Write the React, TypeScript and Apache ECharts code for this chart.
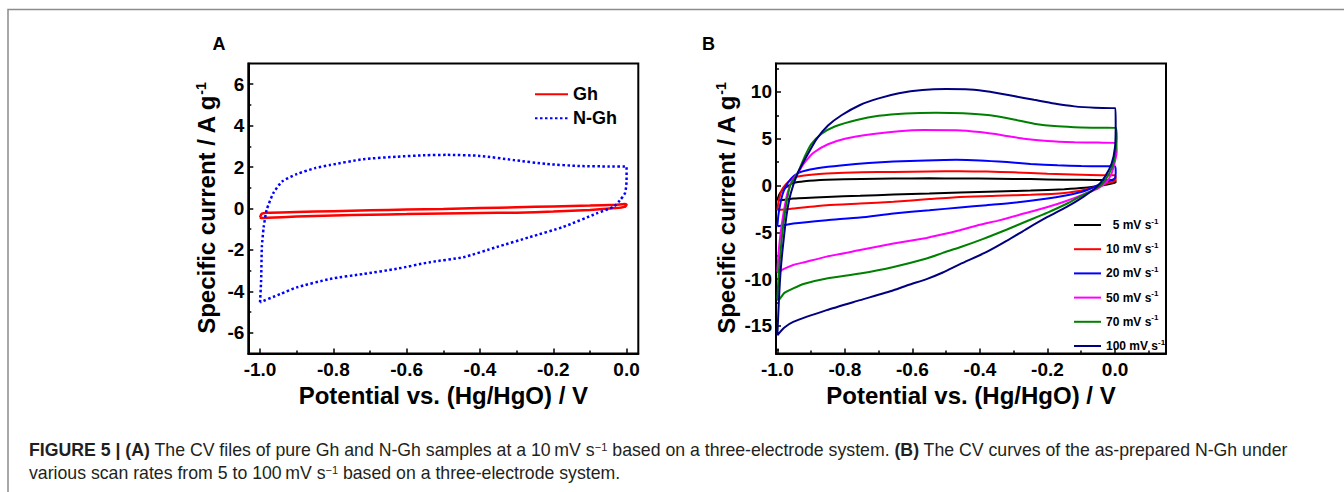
import React, { useEffect, useRef } from 'react';
import * as echarts from 'echarts';

// ---------- Panel A data (potential V, current A/g), closed CV loops ----------
const ghLoop: [number, number][] = [
  [-1.0, -0.42], [-0.995, -0.25], [-0.98, -0.2], [-0.9, -0.17], [-0.8, -0.13], [-0.7, -0.09],
  [-0.6, -0.05], [-0.5, -0.02], [-0.4, 0.02], [-0.3, 0.06], [-0.2, 0.1], [-0.1, 0.14],
  [-0.03, 0.18], [-0.005, 0.22], [0.0, 0.18], [-0.005, 0.08], [-0.03, 0.02], [-0.1, -0.07],
  [-0.2, -0.15], [-0.3, -0.2], [-0.4, -0.22], [-0.5, -0.24], [-0.6, -0.27], [-0.7, -0.3],
  [-0.8, -0.34], [-0.9, -0.39], [-0.98, -0.45], [-0.997, -0.46], [-1.0, -0.42],
];
const nghLoop: [number, number][] = [
  [-1.0, -4.53], [-0.997, -3.48], [-0.995, -1.86], [-0.99, -0.9], [-0.982, -0.08], [-0.964, 0.73],
  [-0.94, 1.3], [-0.9, 1.66], [-0.85, 1.95], [-0.809, 2.1], [-0.718, 2.38], [-0.627, 2.5],
  [-0.55, 2.57], [-0.491, 2.59], [-0.4, 2.54], [-0.309, 2.34], [-0.218, 2.15], [-0.127, 2.05],
  [-0.05, 2.03], [0.0, 2.02], [0.0, 1.37], [-0.004, 0.75], [-0.018, 0.4], [-0.036, 0.08],
  [-0.082, -0.24], [-0.173, -0.89], [-0.264, -1.38], [-0.354, -1.86], [-0.445, -2.35],
  [-0.536, -2.59], [-0.627, -2.91], [-0.718, -3.16], [-0.809, -3.4], [-0.9, -3.81],
  [-0.945, -4.13], [-1.0, -4.53],
];

// ---------- Panel B data: N-Gh at scan rates ----------
const scanRates = ['5', '10', '20', '50', '70', '100'];
const scanColors = ['#000000', '#ff0000', '#0000ff', '#ff00ff', '#008000', '#000080'];

const cv5: [number, number][] = [
  [-1.0, -1.57], [-0.995, -1.0], [-0.985, -0.5], [-0.97, -0.1], [-0.953, 0.25], [-0.92, 0.45],
  [-0.854, 0.6], [-0.75, 0.7], [-0.656, 0.75], [-0.55, 0.76], [-0.459, 0.75], [-0.35, 0.72],
  [-0.25, 0.68], [-0.15, 0.62], [-0.05, 0.58], [0.0, 0.56], [0.002, 0.35], [-0.01, 0.2],
  [-0.04, 0.0], [-0.09, -0.25], [-0.15, -0.4], [-0.25, -0.55], [-0.35, -0.65], [-0.459, -0.75],
  [-0.55, -0.86], [-0.656, -0.97], [-0.755, -1.1], [-0.854, -1.22], [-0.953, -1.39],
  [-0.992, -1.57], [-1.0, -1.57],
];
const cv10: [number, number][] = [
  [-1.0, -2.64], [-0.997, -1.8], [-0.993, -1.2], [-0.987, -0.5], [-0.975, 0.1], [-0.96, 0.6],
  [-0.94, 0.95], [-0.9, 1.15], [-0.854, 1.28], [-0.75, 1.4], [-0.656, 1.45], [-0.55, 1.5],
  [-0.459, 1.52], [-0.38, 1.48], [-0.3, 1.4], [-0.2, 1.25], [-0.1, 1.15], [-0.03, 1.1],
  [0.0, 1.1], [0.002, 0.7], [0.0, 0.5], [-0.02, 0.25], [-0.05, -0.05], [-0.09, -0.45],
  [-0.15, -0.8], [-0.25, -1.0], [-0.35, -1.1], [-0.459, -1.22], [-0.55, -1.45], [-0.656, -1.75],
  [-0.755, -1.93], [-0.854, -2.1], [-0.953, -2.46], [-0.99, -2.6], [-1.0, -2.64],
];
const cv20: [number, number][] = [
  [-1.0, -4.35], [-0.997, -3.2], [-0.993, -2.3], [-0.985, -1.0], [-0.975, -0.1], [-0.96, 0.7],
  [-0.94, 1.3], [-0.903, 1.7], [-0.85, 2.0], [-0.805, 2.17], [-0.73, 2.4], [-0.656, 2.55],
  [-0.56, 2.68], [-0.47, 2.75], [-0.4, 2.68], [-0.32, 2.5], [-0.25, 2.3], [-0.17, 2.15],
  [-0.1, 2.08], [-0.04, 2.05], [0.0, 2.05], [0.002, 1.5], [0.0, 0.8], [-0.015, 0.5],
  [-0.045, 0.15], [-0.07, -0.3], [-0.1, -0.7], [-0.15, -1.1], [-0.2, -1.4], [-0.3, -1.85],
  [-0.38, -2.1], [-0.459, -2.35], [-0.55, -2.65], [-0.656, -2.99], [-0.755, -3.42],
  [-0.854, -3.71], [-0.953, -4.06], [-0.99, -4.3], [-1.0, -4.35],
];
const cv50: [number, number][] = [
  [-1.0, -9.2], [-0.996, -7.0], [-0.99, -5.0], [-0.982, -3.0], [-0.97, -0.8], [-0.955, 0.6],
  [-0.94, 1.3], [-0.92, 2.4], [-0.893, 3.5], [-0.85, 4.4], [-0.8, 5.0], [-0.716, 5.5],
  [-0.64, 5.8], [-0.568, 5.92], [-0.47, 5.9], [-0.4, 5.7], [-0.33, 5.35], [-0.27, 5.0],
  [-0.2, 4.75], [-0.12, 4.62], [-0.05, 4.58], [0.003, 4.55], [0.005, 3.6], [0.0, 2.6],
  [-0.01, 1.3], [-0.025, 0.4], [-0.05, -0.3], [-0.09, -0.9], [-0.14, -1.6], [-0.2, -2.3],
  [-0.27, -3.0], [-0.34, -3.7], [-0.4, -4.2], [-0.459, -4.78], [-0.52, -5.3], [-0.558, -5.6],
  [-0.656, -6.2], [-0.755, -6.9], [-0.854, -7.6], [-0.92, -8.2], [-0.953, -8.5], [-0.985, -9.0],
  [-0.998, -9.3], [-1.0, -9.2],
];
const cv70: [number, number][] = [
  [-1.0, -12.1], [-0.996, -9.5], [-0.992, -7.6], [-0.985, -5.0], [-0.975, -2.3], [-0.962, 0.0],
  [-0.94, 1.3], [-0.92, 3.0], [-0.9, 4.4], [-0.87, 5.5], [-0.83, 6.3], [-0.765, 7.0],
  [-0.7, 7.45], [-0.62, 7.7], [-0.53, 7.78], [-0.45, 7.72], [-0.37, 7.5], [-0.3, 7.05],
  [-0.24, 6.6], [-0.17, 6.32], [-0.1, 6.2], [-0.03, 6.17], [0.003, 6.15], [0.005, 5.0],
  [0.003, 4.1], [-0.005, 2.35], [-0.02, 1.1], [-0.04, 0.1], [-0.065, -0.5], [-0.094, -1.0],
  [-0.14, -1.9], [-0.2, -2.9], [-0.26, -3.8], [-0.32, -4.7], [-0.39, -5.7], [-0.459, -6.6],
  [-0.51, -7.2], [-0.558, -7.8], [-0.656, -8.7], [-0.755, -9.4], [-0.854, -9.94], [-0.92, -10.5],
  [-0.953, -11.0], [-0.98, -11.5], [-0.997, -12.25], [-1.0, -12.1],
];
const cv100: [number, number][] = [
  [-1.0, -16.0], [-0.995, -12.0], [-0.99, -9.0], [-0.982, -6.0], [-0.972, -3.0], [-0.96, -0.8],
  [-0.94, 1.3], [-0.915, 3.0], [-0.885, 4.9], [-0.85, 6.4], [-0.81, 7.5], [-0.755, 8.6],
  [-0.7, 9.3], [-0.64, 9.85], [-0.57, 10.2], [-0.5, 10.3], [-0.43, 10.25], [-0.37, 10.0],
  [-0.3, 9.55], [-0.24, 9.15], [-0.18, 8.75], [-0.12, 8.45], [-0.06, 8.3], [0.0, 8.25],
  [0.002, 6.5], [0.0, 4.1], [-0.01, 2.35], [-0.03, 0.92], [-0.054, -0.15], [-0.094, -1.22],
  [-0.143, -2.29], [-0.2, -3.36], [-0.26, -4.6], [-0.32, -5.9], [-0.38, -7.1], [-0.459, -8.4],
  [-0.51, -9.3], [-0.558, -10.0], [-0.61, -10.6], [-0.656, -11.19], [-0.755, -12.25],
  [-0.854, -13.32], [-0.953, -14.57], [-0.98, -15.2], [-1.0, -16.0],
];
const scanLoops = [cv5, cv10, cv20, cv50, cv70, cv100];

// ---------- Axis ticks ----------
const xMajor = [-1.0, -0.8, -0.6, -0.4, -0.2, 0.0];
const aXMinor = [-0.9, -0.7, -0.5, -0.3, -0.1];
const bXMinor = [-0.9, -0.7, -0.5, -0.3, -0.1, 0.1];
const aYMajor = [-6, -4, -2, 0, 2, 4, 6];
const aYMinor = [-5, -3, -1, 1, 3, 5];
const bYMajor = [-15, -10, -5, 0, 5, 10];
const bYMinor = [-17.5, -12.5, -7.5, -2.5, 2.5, 7.5, 12.5];

const FONT = '"Liberation Sans", Arial, Helvetica, sans-serif';

export default function App() {
  const ref = useRef<HTMLDivElement>(null);

  useEffect(() => {
    if (!ref.current) return;
    const chart = echarts.init(ref.current, undefined, { renderer: 'svg' });

    const gA = { left: 248.3, top: 63.5, width: 390, height: 290 };
    const gB = { left: 776, top: 63.5, width: 390, height: 290 };
    const aX: [number, number] = [-1.032, 0.032];
    const aY: [number, number] = [-7, 7];
    const bX: [number, number] = [-1.004, 0.151];
    const bY: [number, number] = [-17.95, 13.03];

    const tickLbl = { fontSize: 19, fontWeight: 'bold' as const, color: '#000', fontFamily: FONT };
    const nameStyle = {
      fontSize: 24, fontWeight: 'bold' as const, color: '#000', fontFamily: FONT,
      rich: { sup: { fontSize: 14, fontWeight: 'bold' as const, color: '#000', verticalAlign: 'top' as const, fontFamily: FONT } },
    };

    const mainX = (gi: number, range: [number, number]) => ({
      type: 'value', gridIndex: gi, min: range[0], max: range[1], position: 'bottom',
      name: 'Potential vs. (Hg/HgO) / V', nameLocation: 'middle', nameGap: 26, nameTextStyle: nameStyle,
      axisLine: { show: true, onZero: false, lineStyle: { color: '#000', width: 2 } },
      axisTick: { show: true, inside: true, length: 5, customValues: xMajor, lineStyle: { color: '#000', width: 1.5 } },
      axisLabel: { show: true, customValues: xMajor, margin: 6, formatter: (v: number) => v.toFixed(1), ...tickLbl },
      splitLine: { show: false },
    });
    const minorX = (gi: number, range: [number, number], vals: number[]) => ({
      type: 'value', gridIndex: gi, min: range[0], max: range[1], position: 'bottom',
      axisLine: { show: false, onZero: false },
      axisTick: { show: true, inside: true, length: 3, customValues: vals, lineStyle: { color: '#000', width: 1.5 } },
      axisLabel: { show: false }, splitLine: { show: false },
    });
    const mainY = (gi: number, range: [number, number], vals: number[], gap: number) => ({
      type: 'value', gridIndex: gi, min: range[0], max: range[1], position: 'left',
      name: 'Specific current / A g{sup|-1}', nameLocation: 'middle', nameRotate: 90, nameGap: gap, nameTextStyle: nameStyle,
      axisLine: { show: true, onZero: false, lineStyle: { color: '#000', width: 2 } },
      axisTick: { show: true, inside: true, length: 5, customValues: vals, lineStyle: { color: '#000', width: 1.5 } },
      axisLabel: { show: true, customValues: vals, margin: 4, formatter: (v: number) => String(v), ...tickLbl },
      splitLine: { show: false },
    });
    const minorY = (gi: number, range: [number, number], vals: number[]) => ({
      type: 'value', gridIndex: gi, min: range[0], max: range[1], position: 'left',
      axisLine: { show: false, onZero: false },
      axisTick: { show: true, inside: true, length: 3, customValues: vals, lineStyle: { color: '#000', width: 1.5 } },
      axisLabel: { show: false }, splitLine: { show: false },
    });

    const scanNames = scanRates.map((r) => `${r} mV s-1`);

    const option: any = {
      animation: false,
      backgroundColor: '#fff',
      textStyle: { fontFamily: FONT },
      grid: [
        { ...gA, show: true, borderColor: '#000', borderWidth: 2, containLabel: false },
        { ...gB, show: true, borderColor: '#000', borderWidth: 2, containLabel: false },
        { ...gA, show: false, containLabel: false },
        { ...gB, show: false, containLabel: false },
      ],
      xAxis: [mainX(0, aX), mainX(1, bX), minorX(2, aX, aXMinor), minorX(3, bX, bXMinor)],
      yAxis: [mainY(0, aY, aYMajor, 30), mainY(1, bY, bYMajor, 38), minorY(2, aY, aYMinor), minorY(3, bY, bYMinor)],
      legend: [
        {
          data: ['Gh', 'N-Gh'], orient: 'vertical', left: 529, top: 79.3,
          itemWidth: 33, itemHeight: 14, itemGap: 4,
          itemStyle: { opacity: 0 },
          textStyle: { fontSize: 18, fontWeight: 'bold', color: '#000', fontFamily: FONT, lineHeight: 20 },
        },
        {
          data: scanNames, orient: 'vertical', left: 1068, top: 212,
          itemWidth: 27, itemHeight: 14, itemGap: 8.2,
          itemStyle: { opacity: 0 },
          formatter: (name: string) => {
            const base = name.replace(' s-1', ' s');
            const pad = name.startsWith('5 ') ? '  ' : '';
            return `{t|${pad}${base}}{s|-1}`;
          },
          textStyle: {
            fontSize: 12, fontWeight: 'bold', color: '#000', fontFamily: FONT, lineHeight: 16,
            rich: {
              t: { fontSize: 12, fontWeight: 'bold', color: '#000', fontFamily: FONT, lineHeight: 16 },
              s: { fontSize: 8, fontWeight: 'bold', color: '#000', fontFamily: FONT, verticalAlign: 'top', lineHeight: 9 },
            },
          },
        },
      ],
      series: [
        {
          name: 'Gh', type: 'line', xAxisIndex: 0, yAxisIndex: 0, data: ghLoop, symbol: 'none',
          smooth: 0.2, lineStyle: { color: '#ff0000', width: 2.5 }, itemStyle: { color: '#ff0000' },
        },
        {
          name: 'N-Gh', type: 'line', xAxisIndex: 0, yAxisIndex: 0, data: nghLoop, symbol: 'none',
          smooth: 0.2, lineStyle: { color: '#0000ff', width: 2.5, type: [2.5, 2.5] }, itemStyle: { color: '#0000ff' },
        },
        ...scanLoops.map((loop, i) => ({
          name: scanNames[i], type: 'line', xAxisIndex: 1, yAxisIndex: 1, data: loop, symbol: 'none',
          smooth: 0.2, lineStyle: { color: scanColors[i], width: 2 }, itemStyle: { color: scanColors[i] },
        })),
      ],
      graphic: [
        {
          type: 'polyline', silent: true,
          shape: { points: [[8, 492], [8, 9.5], [1344, 9.5]] },
          style: { stroke: '#8c8c8c', lineWidth: 1.5, fill: 'none' },
        },
        {
          type: 'text', x: 219, y: 43.5,
          style: { text: 'A', fontSize: 18, fontWeight: 'bold', fontFamily: FONT, fill: '#000', align: 'center', verticalAlign: 'middle' },
        },
        {
          type: 'text', x: 708.5, y: 43.5,
          style: { text: 'B', fontSize: 18, fontWeight: 'bold', fontFamily: FONT, fill: '#000', align: 'center', verticalAlign: 'middle' },
        },
        {
          type: 'text', x: 29, y: 450,
          style: {
            text: '{b|FIGURE 5 | (A)} The CV files of pure Gh and N-Gh samples at a 10\u2009mV s{sup|\u22121} based on a three-electrode system. {b|(B)} The CV curves of the as-prepared N-Gh under',
            fontSize: 17.7, fontFamily: FONT, fill: '#231f20', align: 'left', verticalAlign: 'middle',
            rich: {
              b: { fontSize: 17.7, fontWeight: 'bold', fontFamily: FONT },
              sup: { fontSize: 11, fontFamily: FONT, verticalAlign: 'top' },
            },
          },
        },
        {
          type: 'text', x: 29, y: 473,
          style: {
            text: 'various scan rates from 5 to 100\u2009mV s{sup|\u22121} based on a three-electrode system.',
            fontSize: 17.7, fontFamily: FONT, fill: '#231f20', align: 'left', verticalAlign: 'middle',
            rich: {
              sup: { fontSize: 11, fontFamily: FONT, verticalAlign: 'top' },
            },
          },
        },
      ],
    };

    chart.setOption(option);
    return () => chart.dispose();
  }, []);

  return (
    <div
      ref={ref}
      style={{ position: 'absolute', left: 0, top: 0, width: 1344, height: 492, background: '#fff' }}
    />
  );
}
